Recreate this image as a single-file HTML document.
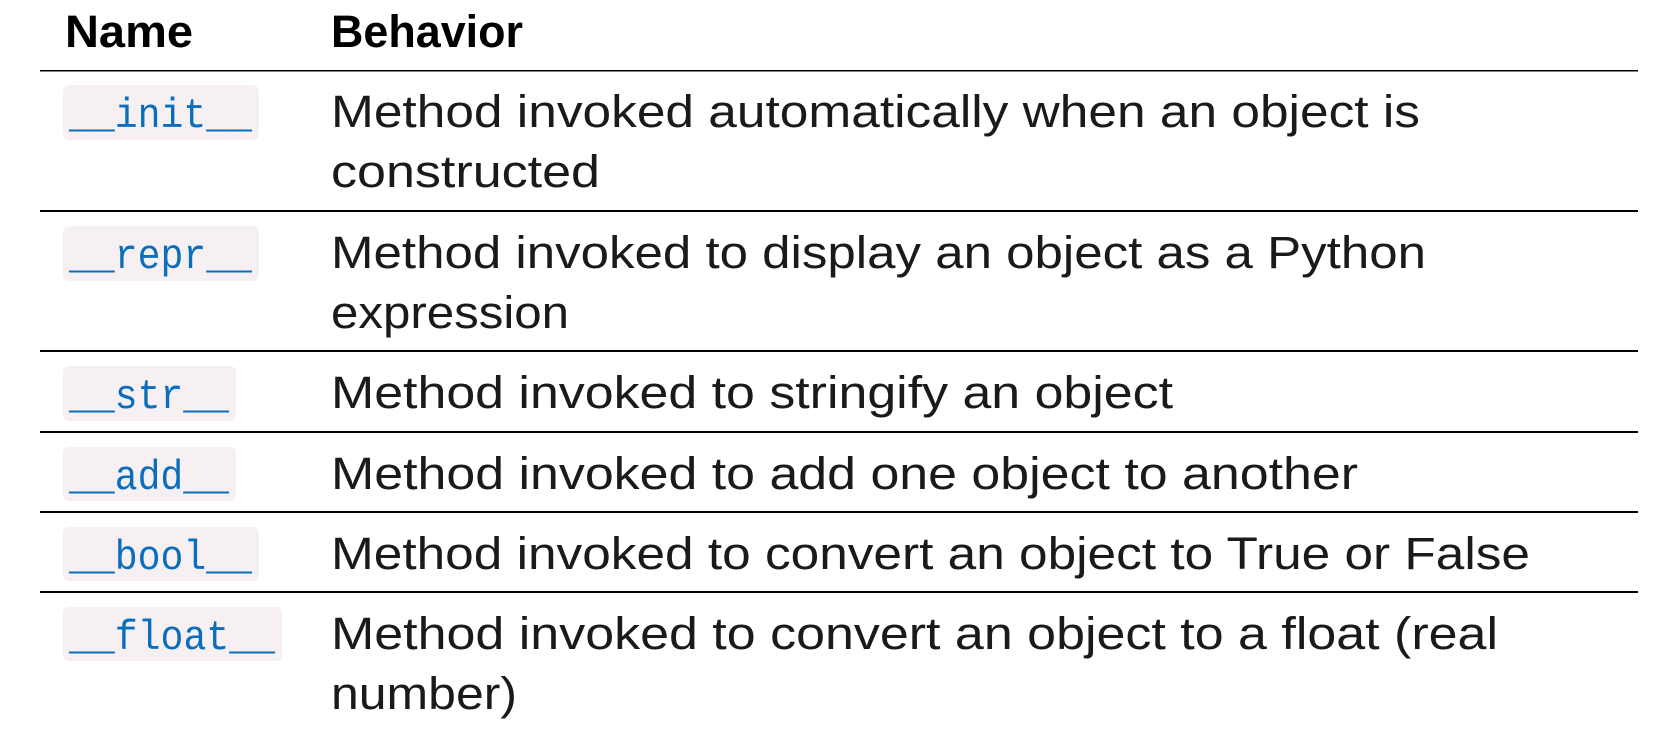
<!DOCTYPE html>
<html><head><meta charset="utf-8"><style>
html,body{margin:0;padding:0;background:#fff;width:1655px;height:729px;overflow:hidden}
svg{display:block}
.b{font-family:"Liberation Sans",sans-serif;font-size:45px;fill:#1a1a1a}
.h{font-family:"Liberation Sans",sans-serif;font-size:45px;font-weight:bold;fill:#000}
.c{font-family:"Liberation Mono",monospace;font-size:42px;fill:#0a6ebd}
</style></head><body>
<svg width="1655" height="729" viewBox="0 0 1655 729" xmlns="http://www.w3.org/2000/svg">
<text class="h" x="65" y="47" textLength="128" lengthAdjust="spacingAndGlyphs">Name</text>
<text class="h" x="331" y="47" textLength="192" lengthAdjust="spacingAndGlyphs">Behavior</text>
<rect x="40" y="70" width="1598" height="1.5" fill="#000"/>
<rect x="40" y="210" width="1598" height="2" fill="#000"/>
<rect x="40" y="350" width="1598" height="2" fill="#000"/>
<rect x="40" y="431" width="1598" height="2" fill="#000"/>
<rect x="40" y="511" width="1598" height="2" fill="#000"/>
<rect x="40" y="591" width="1598" height="2" fill="#000"/>

<g fill="#f7f0f2">
<rect x="63" y="85" width="196" height="55" rx="6"/>
<rect x="63" y="226" width="196" height="55" rx="6"/>
<rect x="63" y="366" width="173" height="55" rx="6"/>
<rect x="63" y="447" width="173" height="54" rx="6"/>
<rect x="63" y="527" width="196" height="54" rx="6"/>
<rect x="63" y="607" width="219" height="54" rx="6"/>
</g>
<text class="c" x="69" y="127" textLength="183" lengthAdjust="spacingAndGlyphs">__init__</text>
<text class="c" x="69" y="268" textLength="183" lengthAdjust="spacingAndGlyphs">__repr__</text>
<text class="c" x="69" y="408" textLength="160" lengthAdjust="spacingAndGlyphs">__str__</text>
<text class="c" x="69" y="489" textLength="160" lengthAdjust="spacingAndGlyphs">__add__</text>
<text class="c" x="69" y="569" textLength="183" lengthAdjust="spacingAndGlyphs">__bool__</text>
<text class="c" x="69" y="649" textLength="206" lengthAdjust="spacingAndGlyphs">__float__</text>

<text class="b" x="331" y="127" textLength="1089" lengthAdjust="spacingAndGlyphs">Method invoked automatically when an object is</text>
<text class="b" x="331" y="187" textLength="269" lengthAdjust="spacingAndGlyphs">constructed</text>
<text class="b" x="331" y="268" textLength="1095" lengthAdjust="spacingAndGlyphs">Method invoked to display an object as a Python</text>
<text class="b" x="331" y="328" textLength="238" lengthAdjust="spacingAndGlyphs">expression</text>
<text class="b" x="331" y="408" textLength="842" lengthAdjust="spacingAndGlyphs">Method invoked to stringify an object</text>
<text class="b" x="331" y="489" textLength="1027" lengthAdjust="spacingAndGlyphs">Method invoked to add one object to another</text>
<text class="b" x="331" y="569" textLength="1199" lengthAdjust="spacingAndGlyphs">Method invoked to convert an object to True or False</text>
<text class="b" x="331" y="649" textLength="1167" lengthAdjust="spacingAndGlyphs">Method invoked to convert an object to a float (real</text>
<text class="b" x="331" y="709" textLength="186" lengthAdjust="spacingAndGlyphs">number)</text>
</svg>
</body></html>
